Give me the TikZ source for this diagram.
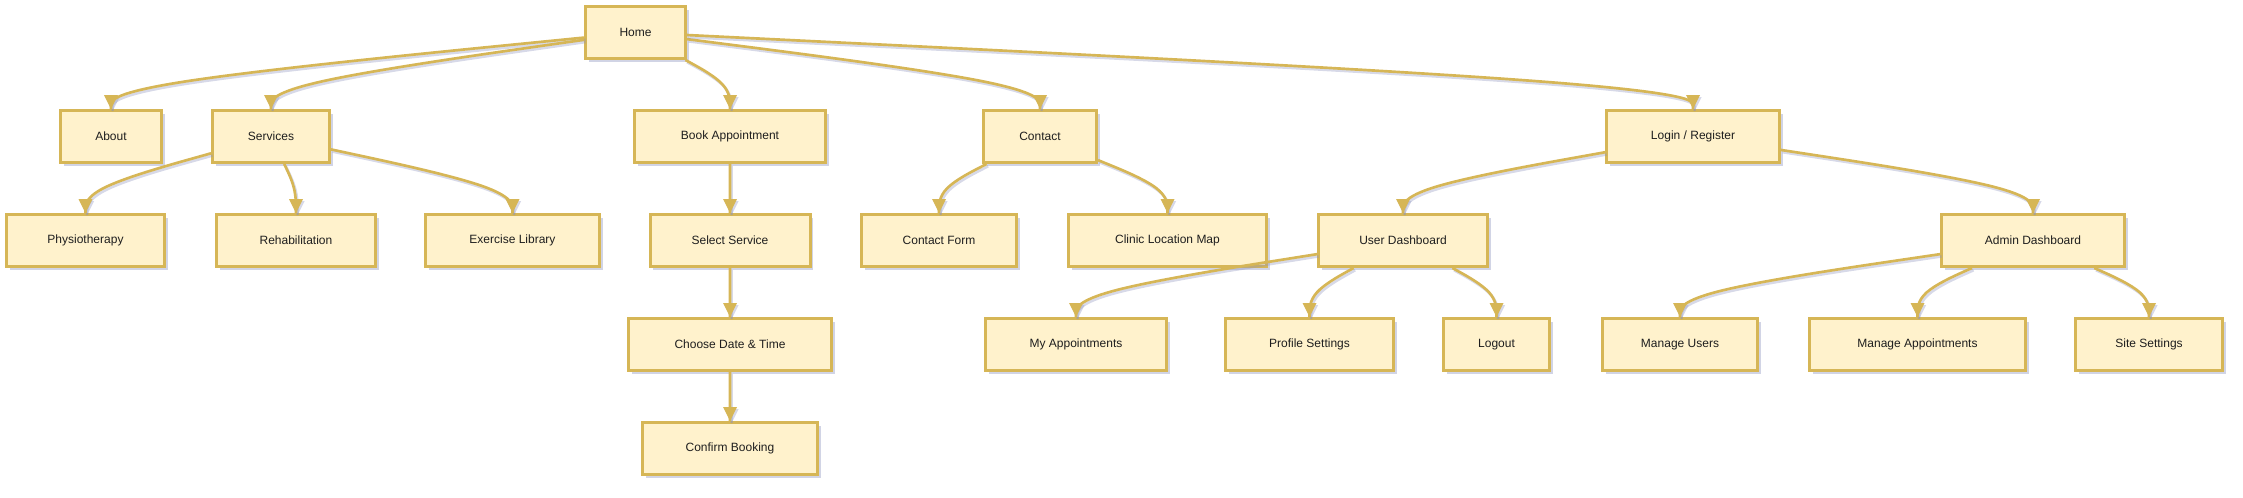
\documentclass[tikz,border=0pt]{standalone}
\usepackage{fontspec}
\setmainfont{Liberation Sans}
\usetikzlibrary{calc,shadows}
\definecolor{boxfill}{HTML}{FFF2CC}
\definecolor{boxline}{HTML}{D6B656}
\definecolor{shadowc}{HTML}{8C93BE}
\definecolor{txt}{HTML}{1E1E1E}
\tikzset{
  box/.style={draw=boxline, fill=boxfill, line width=2.25pt, inner sep=0pt,
    minimum height=39pt, text=txt, font=\fontsize{9}{11}\selectfont,
    drop shadow={shadow xshift=2.6pt, shadow yshift=-2.6pt, fill=shadowc, opacity=0.4}},
  bw/.style={minimum width={(#1-3)*0.75pt}},
  edgeline/.style={draw=boxline, line width=2pt},
  edgeshadow/.style={draw=shadowc, line width=2pt, opacity=0.35},
}
\newcommand\flowedge[3]{%
  \coordinate (fM) at (#2.north |- 0,#3);
  \path (#1) -- (fM) coordinate[pos=0] (fS);
  \coordinate (fE) at (#2.north);
  \coordinate (fA) at ($(fS)!1/6!(fM)$);
  \coordinate (fB) at ($(fS)!1/3!(fM)$);
  \coordinate (fC) at ($(fS)!2/3!(fM)$);
  \coordinate (fF) at ($(fM)!1/3!(fE)$);
  \coordinate (fG) at ($(fM)!2/3!(fE)$);
  \coordinate (fD) at ($(fC)!0.5!(fF)$);
  \coordinate (fH) at ($(fM)!5/6!(fE)$);
  \begin{scope}[transform canvas={shift={(1.6,2.2)}}]
    \draw[edgeshadow] (fS) -- (fA) .. controls (fB) and (fC) .. (fD) .. controls (fF) and (fG) .. (fH) -- (fE);
    \fill[shadowc, opacity=0.35] (fE) -- ++(-7,-14) -- ++(14,0) -- cycle;
  \end{scope}
  \draw[edgeline] (fS) -- (fA) .. controls (fB) and (fC) .. (fD) .. controls (fF) and (fG) .. (fH) -- (fE);
  \fill[boxline] (fE) -- ++(-7,-14) -- ++(14,0) -- cycle;
}
\begin{document}
\begin{tikzpicture}[x=0.75pt, y=-0.75pt]
\useasboundingbox (0,0) rectangle (2243,497);
% row 0
\node[box, bw=103] (home) at (635.5,32.5) {Home};
% row 1
\node[box, bw=104] (about) at (111,136.5) {About};
\node[box, bw=120] (services) at (271,136.5) {Services};
\node[box, bw=194] (book) at (730,136.5) {Book Appointment};
\node[box, bw=116] (contact) at (1040,136.5) {Contact};
\node[box, bw=176] (login) at (1693,136.5) {Login / Register};
% row 2
\node[box, bw=161] (physio) at (85.5,240.5) {Physiotherapy};
\node[box, bw=162] (rehab) at (296,240.5) {Rehabilitation};
\node[box, bw=177] (exlib) at (512.5,240.5) {Exercise Library};
\node[box, bw=163] (select) at (730,240.5) {Select Service};
\node[box, bw=158] (cform) at (939,240.5) {Contact Form};
\node[box, bw=201] (clinic) at (1167.5,240.5) {Clinic Location Map};
\node[box, bw=172] (udash) at (1403,240.5) {User Dashboard};
\node[box, bw=186] (adash) at (2033,240.5) {Admin Dashboard};
% row 3
\node[box, bw=206] (choose) at (730,344.5) {Choose Date \& Time};
\node[box, bw=184] (myappt) at (1076,344.5) {My Appointments};
\node[box, bw=171] (profile) at (1309.5,344.5) {Profile Settings};
\node[box, bw=109] (logout) at (1496.5,344.5) {Logout};
\node[box, bw=158] (musers) at (1680,344.5) {Manage Users};
\node[box, bw=219] (mappt) at (1917.5,344.5) {Manage Appointments};
\node[box, bw=150] (site) at (2149,344.5) {Site Settings};
% row 4
\node[box, bw=178] (confirm) at (730,448.5) {Confirm Booking};
% edges
\flowedge{home}{about}{84.5}
\flowedge{home}{services}{84.5}
\flowedge{home}{book}{84.5}
\flowedge{home}{contact}{84.5}
\flowedge{home}{login}{84.5}
\flowedge{services}{physio}{188.5}
\flowedge{services}{rehab}{188.5}
\flowedge{services}{exlib}{188.5}
\flowedge{book}{select}{188.5}
\flowedge{contact}{cform}{188.5}
\flowedge{contact}{clinic}{188.5}
\flowedge{login}{udash}{188.5}
\flowedge{login}{adash}{188.5}
\flowedge{select}{choose}{292.5}
\flowedge{udash}{myappt}{292.5}
\flowedge{udash}{profile}{292.5}
\flowedge{udash}{logout}{292.5}
\flowedge{adash}{musers}{292.5}
\flowedge{adash}{mappt}{292.5}
\flowedge{adash}{site}{292.5}
\flowedge{choose}{confirm}{396.5}
\end{tikzpicture}
\end{document}
